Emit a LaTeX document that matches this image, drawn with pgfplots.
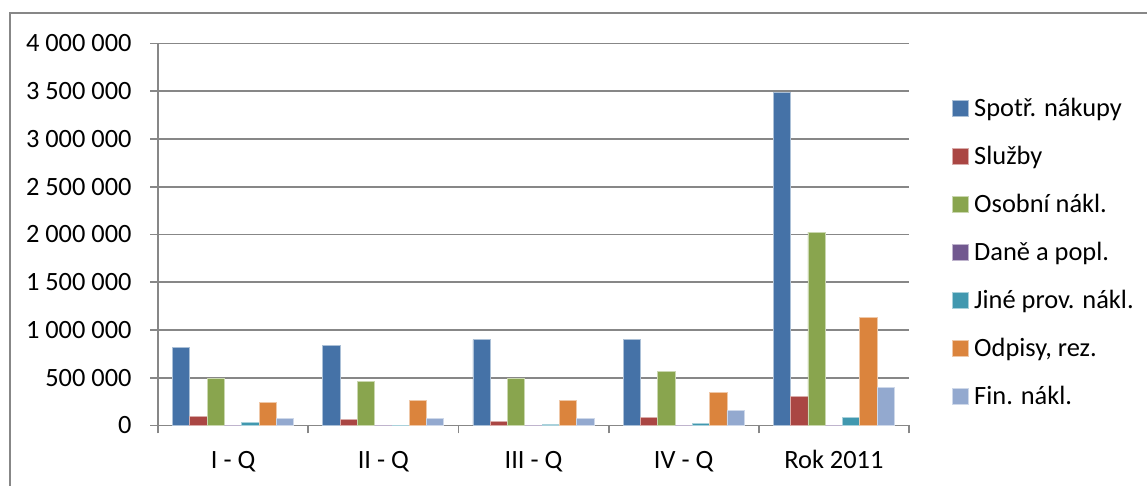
\documentclass[border=0pt]{standalone}
\usepackage{pgfplots}
\pgfplotsset{compat=1.18}
\usepackage{pgfplotstable}
\usepackage{fontspec}
\setmainfont{Carlito}

\definecolor{cSpotr}{HTML}{4572A7}
\definecolor{cSluzby}{HTML}{AA4643}
\definecolor{cOsobni}{HTML}{89A54E}
\definecolor{cDane}{HTML}{71588F}
\definecolor{cJine}{HTML}{4198AF}
\definecolor{cOdpisy}{HTML}{DB843D}
\definecolor{cFin}{HTML}{93A9CF}
\definecolor{gridgray}{HTML}{878787}

% Náklady po čtvrtletích a za rok 2011
\pgfplotstableread{
x spotr   sluzby osobni  dane jine  odpisy  fin
0 820000  94000  489000  0    28000 245000  77000
1 838000  66000  461000  0    2000  258000  75000
2 900000  45000  489000  0    14000 258000  75000
3 897000  84000  565000  0    18000 345000  154000
4 3485000 307000 2026000 0    84000 1129000 395000
}\naklady

\begin{document}
\begin{tikzpicture}
\useasboundingbox (0,0) rectangle (573.5bp,243bp);
\fontsize{13.2bp}{15bp}\selectfont
% outer frame of the chart area
\draw[gridgray, line width=0.75bp] (5bp,0) -- (5bp,236.5bp) -- (573.5bp,236.5bp);
\begin{axis}[
  at={(79bp,30.25bp)}, anchor=south west,
  scale only axis,
  width=375.5bp, height=191bp,
  xmin=-0.5, xmax=4.5, ymin=0, ymax=4000000,
  ybar=0pt, bar width=8.65bp,
  axis x line*=bottom, axis y line*=left,
  axis line style={gridgray, line width=0.9bp},
  every axis plot/.append style={line width=0.4bp},
  ymajorgrids, grid style={gridgray, line width=0.9bp},
  tick align=outside,
  major tick length=4bp, minor tick length=4bp,
  tick style={gridgray, line width=0.9bp},
  major x tick style={draw=none},
  xtick={0,1,2,3,4},
  xticklabels={I - Q, II - Q, III - Q, IV - Q, Rok 2011},
  minor xtick={-0.5,0.5,1.5,2.5,3.5,4.5},
  ytick={0,500000,1000000,1500000,2000000,2500000,3000000,3500000,4000000},
  yticklabels={0,500 000,1 000 000,1 500 000,2 000 000,2 500 000,3 000 000,3 500 000,4 000 000},
  scaled y ticks=false,
  ticklabel style={font=\fontsize{13.2bp}{15bp}\selectfont, text=black},
  yticklabel style={anchor=east, inner sep=0pt, xshift=-9bp},
  xticklabel style={anchor=base, inner sep=0pt, yshift=-17.75bp},
  legend style={at={(axis description cs:1.0573,0.857)}, anchor=north west,
    draw=none, fill=none, inner sep=0pt, row sep=12bp, column sep=2.5bp,
    font=\fontsize{13.2bp}{15bp}\selectfont,
    nodes={inner sep=0pt, text height=9bp, text depth=3bp, anchor=base west}},
  legend cell align=left,
  legend image code/.code={\fill[#1] (0bp,0bp) rectangle (8bp,8bp);},
]
\addplot[fill=cSpotr,  draw=cSpotr!45!white]  table[x=x, y=spotr]  {\naklady};
\addplot[fill=cSluzby, draw=cSluzby!45!white] table[x=x, y=sluzby] {\naklady};
\addplot[fill=cOsobni, draw=cOsobni!45!white] table[x=x, y=osobni] {\naklady};
\addplot[fill=cDane,   draw=cDane!45!white]   table[x=x, y=dane]   {\naklady};
\addplot[fill=cJine,   draw=cJine!45!white]   table[x=x, y=jine]   {\naklady};
\addplot[fill=cOdpisy, draw=cOdpisy!45!white] table[x=x, y=odpisy] {\naklady};
\addplot[fill=cFin,    draw=cFin!45!white]    table[x=x, y=fin]    {\naklady};
\legend{Spotř. nákupy, Služby, Osobní nákl., Daně a popl., Jiné prov. nákl., {Odpisy, rez.}, Fin. nákl.}
\end{axis}
\end{tikzpicture}
\end{document}
